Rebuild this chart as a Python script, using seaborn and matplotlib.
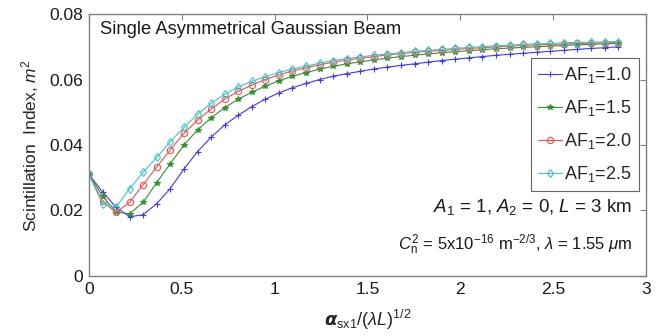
import numpy as np
import pandas as pd
import matplotlib
matplotlib.use('Agg')
import matplotlib.pyplot as plt
import seaborn as sns

# ---- data ----
x_norm = [0.000, 0.073, 0.146, 0.219, 0.292, 0.365, 0.438, 0.512, 0.585, 0.658,
          0.731, 0.804, 0.877, 0.950, 1.023, 1.096, 1.170, 1.243, 1.316, 1.389,
          1.462, 1.535, 1.608, 1.681, 1.754, 1.827, 1.901, 1.974, 2.047, 2.120,
          2.193, 2.266, 2.339, 2.412, 2.485, 2.558, 2.632, 2.705, 2.778, 2.851]

af_10 = [0.0310, 0.0257, 0.0210, 0.0181, 0.0187, 0.0221, 0.0267, 0.0327, 0.0380, 0.0424,
         0.0461, 0.0491, 0.0517, 0.0540, 0.0559, 0.0575, 0.0588, 0.0600, 0.0610, 0.0618,
         0.0625, 0.0632, 0.0638, 0.0643, 0.0648, 0.0653, 0.0658, 0.0662, 0.0666, 0.0670,
         0.0674, 0.0677, 0.0680, 0.0683, 0.0686, 0.0689, 0.0692, 0.0695, 0.0697, 0.0700]

af_15 = [0.0310, 0.0244, 0.0195, 0.0190, 0.0225, 0.0285, 0.0343, 0.0400, 0.0446, 0.0483,
         0.0514, 0.0540, 0.0561, 0.0580, 0.0596, 0.0610, 0.0621, 0.0632, 0.0640, 0.0648,
         0.0654, 0.0660, 0.0665, 0.0670, 0.0674, 0.0678, 0.0682, 0.0685, 0.0688, 0.0691,
         0.0694, 0.0696, 0.0698, 0.0700, 0.0702, 0.0704, 0.0706, 0.0707, 0.0709, 0.0710]

af_20 = [0.0310, 0.0228, 0.0194, 0.0225, 0.0279, 0.0333, 0.0385, 0.0436, 0.0476, 0.0510,
         0.0540, 0.0564, 0.0583, 0.0600, 0.0614, 0.0626, 0.0636, 0.0645, 0.0653, 0.0659,
         0.0665, 0.0670, 0.0675, 0.0679, 0.0683, 0.0686, 0.0689, 0.0692, 0.0695, 0.0697,
         0.0700, 0.0702, 0.0704, 0.0706, 0.0707, 0.0709, 0.0710, 0.0711, 0.0712, 0.0713]

af_25 = [0.0310, 0.0220, 0.0211, 0.0266, 0.0317, 0.0362, 0.0410, 0.0454, 0.0494, 0.0527,
         0.0555, 0.0577, 0.0594, 0.0609, 0.0621, 0.0632, 0.0641, 0.0650, 0.0658, 0.0664,
         0.0669, 0.0674, 0.0678, 0.0682, 0.0686, 0.0689, 0.0692, 0.0695, 0.0698, 0.0700,
         0.0703, 0.0705, 0.0707, 0.0709, 0.0710, 0.0712, 0.0713, 0.0714, 0.0715, 0.0716]

series_labels = [r'AF$_1$=1.0', r'AF$_1$=1.5', r'AF$_1$=2.0', r'AF$_1$=2.5']
series_values = [af_10, af_15, af_20, af_25]

x_ticks = [0, 0.5, 1, 1.5, 2, 2.5, 3]
x_tick_labels = ['0', '0.5', '1', '1.5', '2', '2.5', '3']
y_ticks = [0, 0.02, 0.04, 0.06, 0.08]
y_tick_labels = ['0', '0.02', '0.04', '0.06', '0.08']

# ---- style ----
sns.set_style('white')
plt.rcParams['font.family'] = ['Liberation Sans', 'DejaVu Sans']
plt.rcParams['mathtext.fontset'] = 'custom'
plt.rcParams['mathtext.rm'] = 'Liberation Sans'
plt.rcParams['mathtext.it'] = 'Liberation Sans:italic'
plt.rcParams['mathtext.bf'] = 'Liberation Sans:bold'

colors = ['#3a3aff', '#2a962a', '#ff4a4a', '#3cc8c8']
markers = ['+', '*', 'o', 'd']

fig = plt.figure(figsize=(6.61, 3.36), dpi=100)
ax = fig.add_axes([0.1346, 0.1786, 0.8424, 0.7797])

for lab, vals, col, mk in zip(series_labels, series_values, colors, markers):
    d = pd.DataFrame({'x': x_norm, 'y': vals})
    hollow = mk in ('o', 'd')
    sns.lineplot(data=d, x='x', y='y', ax=ax, color=col, linewidth=0.8,
                 marker=mk, markersize=4.5 if mk != '*' else 4,
                 markerfacecolor='none' if hollow else col,
                 markeredgecolor=col, markeredgewidth=0.8,
                 label=lab, estimator=None, sort=False)

ax.set_xlim(0, 3)
ax.set_ylim(0, 0.08)
ax.set_xticks(x_ticks)
ax.set_xticklabels(x_tick_labels)
ax.set_yticks(y_ticks)
ax.set_yticklabels(y_tick_labels)
ax.tick_params(direction='in', length=4, width=0.8, color='#808080',
               top=True, right=True, labelsize=12.5, labelcolor='#1a1a1a', pad=4)
for s in ax.spines.values():
    s.set_color('#808080')
    s.set_linewidth(1.0)

ax.set_xlabel(r'$\boldsymbol{\alpha}_{\mathrm{sx1}}/(\lambda L)^{1/2}$', fontsize=13,
              labelpad=8)
ax.set_ylabel(r'Scintillation  Index, $m^2$', fontsize=12.5, labelpad=6)

ax.text(0.02, 0.94, 'Single Asymmetrical Gaussian Beam', transform=ax.transAxes,
        fontsize=13.2, ha='left', va='center', color='#1a1a1a')
ax.text(0.976, 0.265, r'$A_1$ = 1, $A_2$ = 0, $L$ = 3 km', transform=ax.transAxes,
        fontsize=13.5, ha='right', va='center', color='#1a1a1a')
ax.text(0.976, 0.12,
        r'$C_\mathrm{n}^2$ = 5x10$^{-16}$ m$^{-2/3}$, $\lambda$ = 1.55 $\mu$m',
        transform=ax.transAxes, fontsize=12, ha='right', va='center', color='#1a1a1a')

leg = ax.legend(loc='upper right', bbox_to_anchor=(0.987, 0.832), fontsize=13,
                frameon=True, fancybox=False, edgecolor='#404040',
                handlelength=1.3, handletextpad=0.1, borderpad=0.4,
                labelspacing=0.72, borderaxespad=0)
leg.get_frame().set_linewidth(0.8)

fig.savefig('out.png', dpi=100, facecolor='white')
